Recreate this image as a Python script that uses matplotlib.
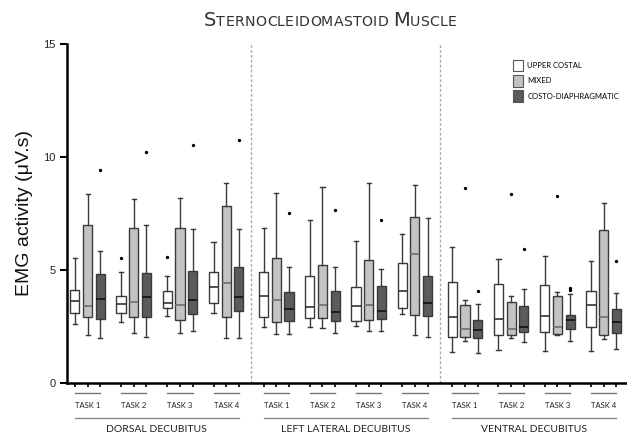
import numpy as np
import matplotlib
matplotlib.use('Agg')
import matplotlib.pyplot as plt
from matplotlib.patches import Patch
from matplotlib.transforms import blended_transform_factory

# data: [whislo, q1, median, q3, whishi]
sections = ['DORSAL DECUBITUS', 'LEFT LATERAL DECUBITUS', 'VENTRAL DECUBITUS']
tasks = ['TASK 1', 'TASK 2', 'TASK 3', 'TASK 4']
groups = ['UPPER COSTAL', 'MIXED', 'COSTO-DIAPHRAGMATIC']

upper_costal = [
    [2.63, 3.10, 3.63, 4.10, 5.53], [2.68, 3.10, 3.48, 3.85, 4.90],
    [2.98, 3.32, 3.55, 4.09, 4.73], [3.10, 3.55, 4.23, 4.91, 6.24],
    [2.46, 2.91, 3.83, 4.90, 6.84], [2.48, 2.86, 3.38, 4.75, 7.20],
    [2.54, 2.74, 3.42, 4.26, 6.30], [3.04, 3.32, 4.09, 5.32, 6.59],
    [1.37, 2.04, 2.91, 4.48, 6.02], [1.46, 2.12, 2.83, 4.40, 5.50],
    [1.43, 2.26, 2.95, 4.35, 5.60], [1.43, 2.49, 3.47, 4.06, 5.40],
]
upper_costal_out = [[], [5.53], [5.58], [], [], [], [], [], [], [], [], []]

mixed = [
    [2.14, 2.91, 3.42, 6.99, 8.38], [2.20, 2.91, 3.57, 6.84, 8.14],
    [2.20, 2.77, 3.45, 6.86, 8.17], [1.98, 2.92, 4.41, 7.83, 8.85],
    [2.18, 2.70, 3.67, 5.53, 8.41], [2.43, 2.89, 3.47, 5.21, 8.66],
    [2.30, 2.79, 3.44, 5.44, 8.83], [2.12, 3.01, 5.71, 7.33, 8.76],
    [1.87, 2.04, 2.37, 3.45, 3.69], [1.99, 2.12, 2.40, 3.60, 3.85],
    [2.11, 2.17, 2.48, 3.83, 4.03], [1.96, 2.14, 2.91, 6.78, 7.95],
]
mixed_out = [[], [], [], [], [], [], [], [], [8.61], [8.35], [8.29], []]

costo_diaph = [
    [1.99, 2.85, 3.73, 4.82, 5.84], [2.02, 2.91, 3.79, 4.88, 6.98],
    [2.30, 3.05, 3.67, 4.94, 6.80], [1.98, 3.17, 3.82, 5.13, 6.80],
    [2.18, 2.76, 3.26, 4.04, 5.13], [2.20, 2.73, 3.14, 4.06, 5.12],
    [2.30, 2.82, 3.19, 4.31, 5.06], [2.04, 2.95, 3.55, 4.75, 7.30],
    [1.33, 1.99, 2.36, 2.79, 3.51], [1.81, 2.24, 2.46, 3.39, 4.16],
    [1.84, 2.39, 2.77, 3.02, 3.95], [1.50, 2.23, 2.71, 3.29, 4.00],
]
costo_diaph_out = [[9.41], [10.24], [10.55], [10.74], [7.54], [7.64], [7.21], [],
                   [4.09], [5.94], [4.12, 4.20], [5.40]]

all_stats = [upper_costal, mixed, costo_diaph]
all_out = [upper_costal_out, mixed_out, costo_diaph_out]
fills = ['white', '#c3c3c3', '#5b5b5b']
med_colors = ['#333333', '#6e6e6e', '#111111']

GROUP_STEP = 3.64
SECTION_STEP = 14.86

fig = plt.figure(figsize=(6.27, 4.36), dpi=100)
ax = fig.add_axes([0.107, 0.1216, 0.893, 0.7775])

def centre(s, t):
    return 1 + s * SECTION_STEP + t * GROUP_STEP

tick_pos = []
for g in range(3):
    stats = []
    pos = []
    for i in range(12):
        s, t = divmod(i, 4)
        lo, q1, med, q3, hi = all_stats[g][i]
        stats.append(dict(whislo=lo, q1=q1, med=med, q3=q3, whishi=hi,
                          fliers=all_out[g][i]))
        pos.append(centre(s, t) + (g - 1))
    tick_pos += pos
    ax.bxp(stats, positions=pos, widths=0.72, patch_artist=True,
           capwidths=0.32, manage_ticks=False,
           boxprops=dict(facecolor=fills[g], edgecolor='#3a3a3a', linewidth=1.0),
           whiskerprops=dict(color='#3a3a3a', linewidth=1.0),
           capprops=dict(color='#3a3a3a', linewidth=1.0),
           medianprops=dict(color=med_colors[g], linewidth=1.2),
           flierprops=dict(marker='o', markersize=1.4, markerfacecolor='black',
                           markeredgecolor='black'))

for s in range(1, 3):
    xb = (centre(s - 1, 3) + 1 + centre(s, 0) - 1) / 2
    ax.axvline(xb, color='#aaaaaa', lw=1.0, ls=(0, (2, 1.5)), zorder=0)

ax.set_xlim(-0.61, 43.48)
ax.set_ylim(0, 15)
ax.set_yticks([0, 5, 10, 15])
ax.set_xticks(sorted(tick_pos))
ax.set_xticklabels([])
ax.tick_params(axis='x', length=3, width=1.2, color='black')
ax.tick_params(axis='y', length=5, width=1.5, color='black', labelsize=8,
               labelcolor='#222222')
for lab in ax.get_yticklabels():
    lab.set_fontfamily('Liberation Sans')
for side in ['top', 'right']:
    ax.spines[side].set_visible(False)
for side in ['left', 'bottom']:
    ax.spines[side].set_linewidth(1.8)

ax.set_ylabel('EMG activity (μV.s)', fontsize=14, family='Liberation Sans',
              color='#111111', labelpad=7)

# labels under the x axis
tr = blended_transform_factory(ax.transData, fig.transFigure)
for s in range(3):
    for t in range(4):
        c = centre(s, t)
        ax.plot([c - 1, c + 1], [0.0985, 0.0985], transform=tr, color='#777777',
                lw=1.0, clip_on=False)
        ax.text(c, 0.071, tasks[t], transform=tr, ha='center', va='center',
                fontsize=5.5, family='Lato', color='#222222')
    ax.plot([centre(s, 0) - 1, centre(s, 3) + 1], [0.041, 0.041], transform=tr,
            color='#888888', lw=1.0, clip_on=False)
    ax.text((centre(s, 0) + centre(s, 3)) / 2, 0.016, sections[s], transform=tr,
            ha='center', va='center', fontsize=7.5, family='Lato', color='#222222')

# legend
handles = [Patch(facecolor=fills[g], edgecolor='#555555', linewidth=0.8) for g in range(3)]
fig.legend(handles, groups, loc='upper left', bbox_to_anchor=(0.818, 0.862),
           frameon=False, prop=dict(family='Lato', size=5.5),
           handlelength=1.3, handleheight=1.9, handletextpad=0.6,
           labelspacing=0.5, borderpad=0, borderaxespad=0)

# title in small capitals
title = 'Sternocleidomastoid Muscle'
renderer = fig.canvas.get_renderer()
parts = []
x = 0.0
for ch in title:
    size = 14 if ch.isupper() else 10.2
    txt = fig.text(x, 0.94, ch.upper(), fontsize=size, family='DejaVu Sans',
                   color='#333333', va='baseline', ha='left')
    w = txt.get_window_extent(renderer).width / fig.bbox.width
    if ch == ' ':
        w = 4.0 / fig.bbox.width
    parts.append(txt)
    x += w + 0.3 / fig.bbox.width
shift = 0.527 - x / 2
for txt in parts:
    px, py = txt.get_position()
    txt.set_position((px + shift, py))

fig.savefig('out.png', dpi=100)
